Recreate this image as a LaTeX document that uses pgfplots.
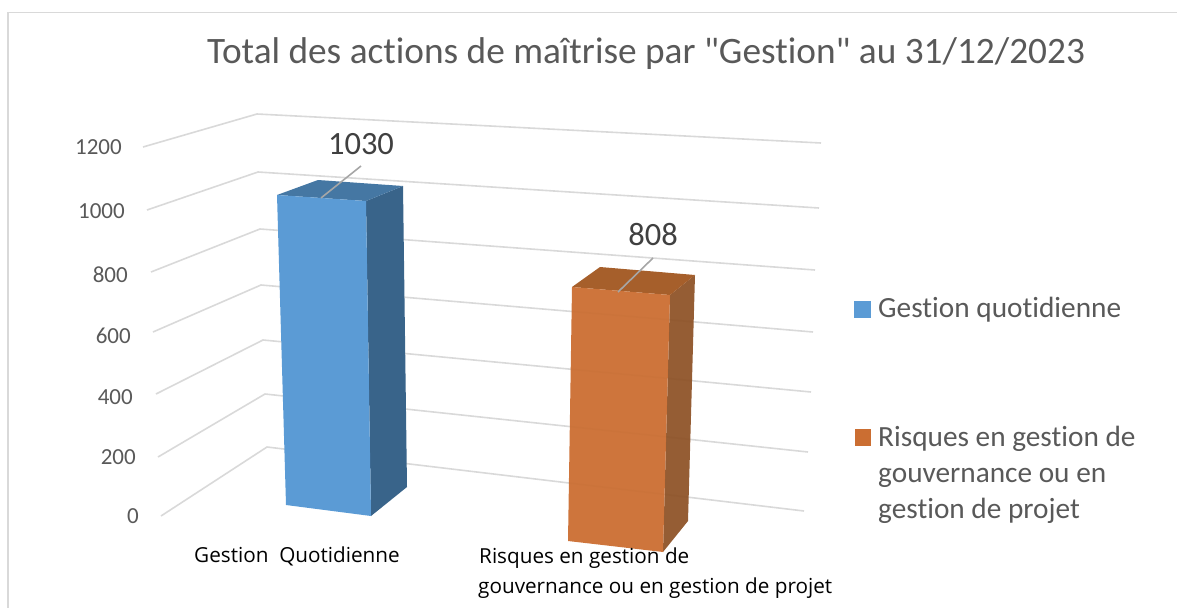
\documentclass[border=0pt]{standalone}
\usepackage{fontspec}
\setmainfont{Carlito}[Ligatures={NoCommon}]
\newfontfamily\titlefont{Carlito}[Ligatures={NoCommon}]
\newfontfamily\catfont{Open Sans}
\usepackage{pgfplots}
\pgfplotsset{compat=1.18}
\definecolor{gridc}{HTML}{D9D9D9}
\definecolor{txt}{HTML}{595959}
\definecolor{bfront}{HTML}{5B9BD5}
\definecolor{btop}{HTML}{4577A3}
\definecolor{bside}{HTML}{39648A}
\definecolor{ofront}{HTML}{CB6E32}
\definecolor{otop}{HTML}{A65F2B}
\definecolor{oside}{HTML}{8F5429}
\tikzset{
  ticklab/.style={anchor=base east,text=txt,font=\fontsize{23}{23}\selectfont,inner sep=0pt},
  vallab/.style={anchor=base,text=black!75,font=\fontsize{32.5}{32.5}\selectfont,inner sep=0pt},
  catlab/.style={anchor=base west,text=black,font=\catfont\fontsize{20.7}{20.7}\selectfont,inner sep=0pt},
  leglab/.style={anchor=base west,text=txt,font=\fontsize{29.3}{29.3}\selectfont,inner sep=0pt},
}
\begin{document}
\begin{tikzpicture}
\path[use as bounding box] (0,0) rectangle (1177pt,608pt);
\begin{axis}[
  at={(0,0)}, anchor=south west,
  scale only axis, width=1177pt, height=608pt,
  xmin=0, xmax=1177, ymin=0, ymax=608, y dir=reverse,
  hide axis, clip=false,
]
% chart frame
\addplot[gridc,line width=1.6pt] coordinates {(1177,12.5) (8,12.5) (8,608)};

% gridlines: left end, back corner, right end
\addplot[gridc,line width=1.6pt] coordinates {(143,147) (257,114) (821,143)};
\addplot[gridc,line width=1.6pt] coordinates {(147,210) (258,172) (819,208)};
\addplot[gridc,line width=1.6pt] coordinates {(151,272) (260,229) (815,270)};
\addplot[gridc,line width=1.6pt] coordinates {(153,332) (261,285) (813,332)};
\addplot[gridc,line width=1.6pt] coordinates {(156,394) (263,340) (811,392)};
\addplot[gridc,line width=1.6pt] coordinates {(158,457) (265,394) (808,452)};
\addplot[gridc,line width=1.6pt] coordinates {(161,516) (267,447) (804,511)};

% blue bar, 1030
\addplot[fill=bside,draw=none] coordinates {(366,201) (403,186) (407,487) (371,516)} -- cycle;
\addplot[fill=btop,draw=none] coordinates {(277,195) (318,180) (403,186) (366,201)} -- cycle;
\addplot[fill=bfront,draw=none] coordinates {(277,195) (366,201) (371,516) (286,505)} -- cycle;

% orange bar, 808
\addplot[fill=oside,draw=none,opacity=.95] coordinates {(670,295) (695,275) (688,521) (663,552)} -- cycle;
\addplot[fill=otop,draw=none] coordinates {(572,287) (600,267) (695,275) (670,295)} -- cycle;
\addplot[fill=ofront,draw=none,opacity=.95] coordinates {(572,287) (670,295) (663,552) (568,541)} -- cycle;

% leader lines
\addplot[color=black!35,line width=1.6pt] coordinates {(321,198) (361,166)};
\addplot[color=black!35,line width=1.6pt] coordinates {(618,292) (653,258)};

% legend swatches
\addplot[fill=bfront,draw=none] coordinates {(854,301) (871,301) (871,318) (854,318)} -- cycle;
\addplot[fill=ofront,draw=none] coordinates {(855,429) (871,429) (871,446) (855,446)} -- cycle;

% title
\node[anchor=base west,text=txt,font=\titlefont\fontsize{37.3}{37.3}\selectfont,inner sep=0pt] at (axis cs:207,63) {Total des actions de maîtrise par "Gestion" au 31/12/2023};

% value labels
\node[vallab] at (axis cs:361,154) {1030};
\node[vallab] at (axis cs:653,245) {808};

% value axis labels
\node[ticklab] at (axis cs:122,154) {1200};
\node[ticklab] at (axis cs:125,218) {1000};
\node[ticklab] at (axis cs:128,282) {800};
\node[ticklab] at (axis cs:131,343) {600};
\node[ticklab] at (axis cs:133,404) {400};
\node[ticklab] at (axis cs:136,464) {200};
\node[ticklab] at (axis cs:139,523) {0};

% category labels
\node[catlab] at (axis cs:194,562) {Gestion\ \ Quotidienne};
\node[catlab] at (axis cs:479,563) {Risques en gestion de};
\node[catlab] at (axis cs:478,593) {gouvernance ou en gestion de projet};

% legend text
\node[leglab] at (axis cs:878,317) {Gestion quotidienne};
\node[leglab] at (axis cs:878,446) {Risques en gestion de};
\node[leglab] at (axis cs:878,482) {gouvernance ou en};
\node[leglab] at (axis cs:878,518) {gestion de projet};
\end{axis}
\end{tikzpicture}
\end{document}
